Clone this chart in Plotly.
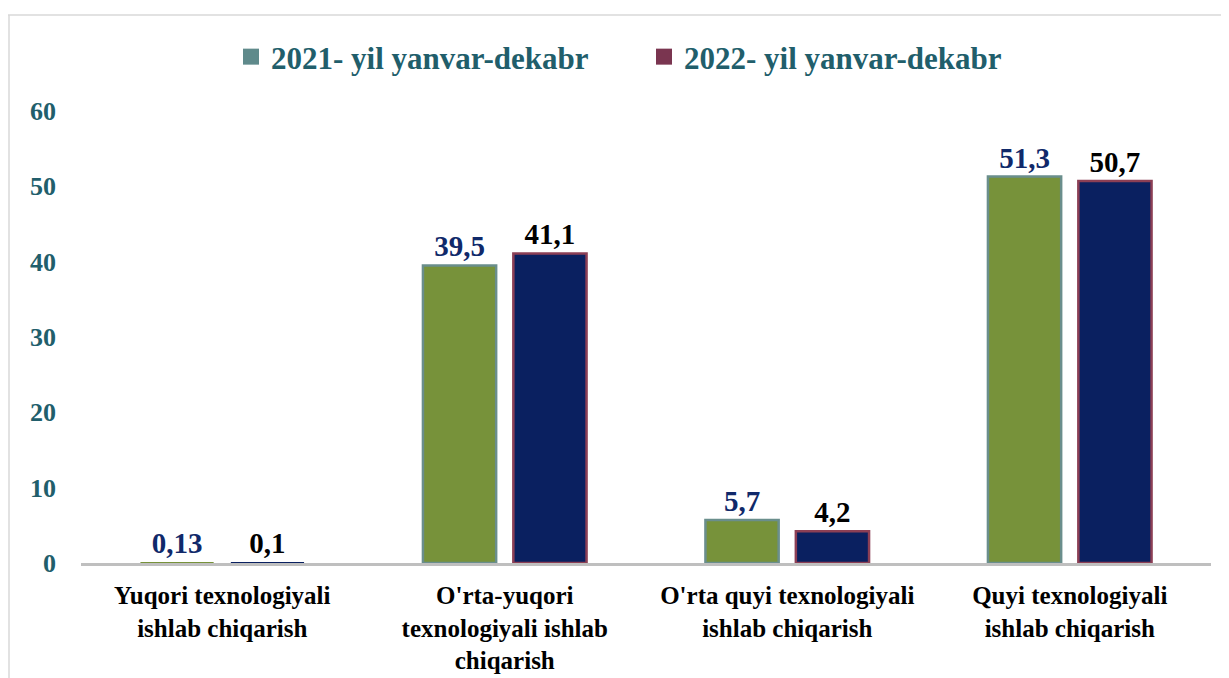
import plotly.graph_objects as go

categories = [
    "Yuqori texnologiyali<br>ishlab chiqarish",
    "O'rta-yuqori<br>texnologiyali ishlab<br>chiqarish",
    "O'rta quyi texnologiyali<br>ishlab chiqarish",
    "Quyi texnologiyali<br>ishlab chiqarish",
]
series_names = ["2021- yil yanvar-dekabr", "2022- yil yanvar-dekabr"]
series_2021 = [0.13, 39.5, 5.7, 51.3]
series_2022 = [0.1, 41.1, 4.2, 50.7]
labels_2021 = ["0,13", "39,5", "5,7", "51,3"]
labels_2022 = ["0,1", "41,1", "4,2", "50,7"]
y_ticks = [0, 10, 20, 30, 40, 50, 60]

FONT = "Liberation Serif"
W, H = 1229, 678
ml, mr, mt, mb = 73, 26, 103, 123
pw = W - ml - mr
ph = H - mt - mb

fills = ["#77923A", "#0A2060"]
edges = ["#6A8E8C", "#8C3F55"]
label_colors = ["#10296A", "#000000"]

fig = go.Figure()
for vals, labs, fill, edge, lc in zip([series_2021, series_2022],
                                     [labels_2021, labels_2022],
                                     fills, edges, label_colors):
    fig.add_trace(go.Bar(
        x=categories, y=vals, showlegend=False,
        text=labs, textposition="outside", cliponaxis=False,
        textfont=dict(family=FONT, size=29, color=lc, weight="bold"),
        marker=dict(color=fill,
                    line=dict(color=edge, width=[0 if v < 1 else 2.5 for v in vals])),
    ))
# legend entries (square markers in the series' edge colours)
for name, edge in zip(series_names, ["#5F8A8B", "#7A3550"]):
    fig.add_trace(go.Scatter(
        x=[None], y=[None], mode="markers", name=name,
        marker=dict(symbol="square", size=18, color=edge),
    ))

fig.update_layout(
    width=W, height=H,
    margin=dict(l=ml, r=mr, t=mt, b=mb),
    paper_bgcolor="white", plot_bgcolor="white",
    barmode="group", bargap=0.36, bargroupgap=0.19,
    font=dict(family=FONT),
    legend=dict(
        orientation="h", x=(237 - 14 - ml) / pw, xanchor="left",
        y=1 + (mt - 49) / ph, yanchor="middle",
        font=dict(family=FONT, size=31, color="#215E6B", weight="bold"),
        traceorder="normal", itemwidth=30,
        entrywidth=368, entrywidthmode="pixels",
    ),
    xaxis=dict(
        showline=True, linecolor="#BFBFBF", linewidth=3, ticks="outside",
        ticklen=8, tickcolor="rgba(0,0,0,0)",
        tickfont=dict(family=FONT, size=25, color="#000000", weight="bold"),
        showgrid=False,
    ),
    yaxis=dict(
        range=[0, 60], tickvals=y_ticks, showgrid=False, zeroline=False,
        showline=False, ticks="",
        tickfont=dict(family=FONT, size=26, color="#215E6B", weight="bold"),
        ticklabelstandoff=24,
    ),
    shapes=[
        dict(type="line", xref="paper", yref="paper",
             x0=(0 - ml) / pw, x1=(W - ml) / pw,
             y0=1 + (mt - 7) / ph, y1=1 + (mt - 7) / ph,
             line=dict(color="#D9D9D9", width=1.5)),
        dict(type="line", xref="paper", yref="paper",
             x0=(1 - ml) / pw, x1=(1 - ml) / pw,
             y0=1 + (mt - 7) / ph, y1=-(mb) / ph,
             line=dict(color="#D9D9D9", width=1.5)),
    ],
)
fig.write_html("out.html")
